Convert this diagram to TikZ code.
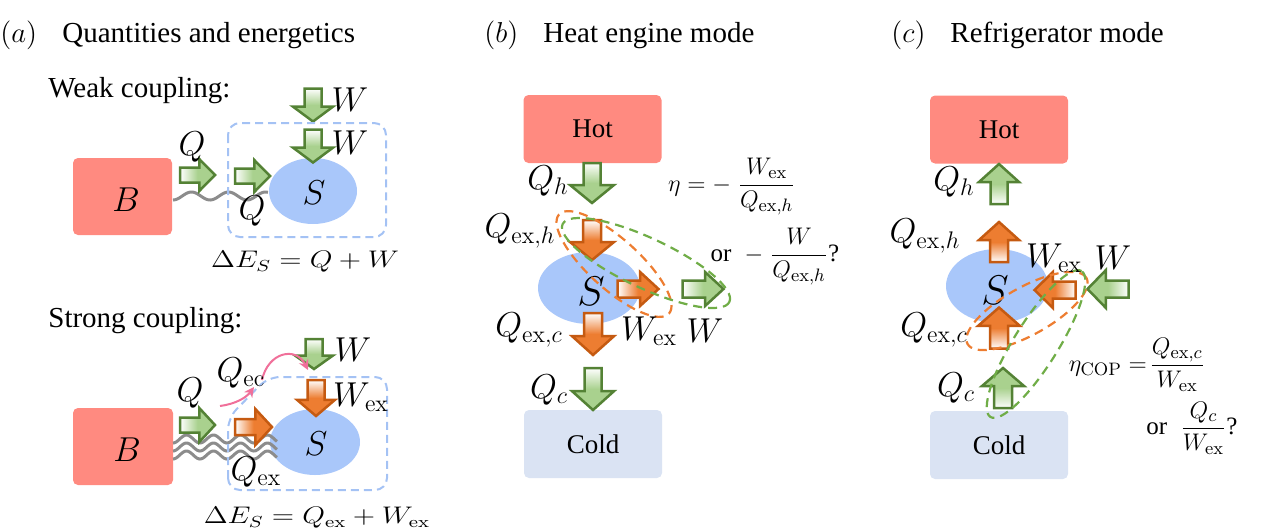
\documentclass[tikz,border=0pt]{standalone}
\usepackage[no-math]{fontspec}
\setmainfont{Liberation Serif}
\usepackage{amsmath}
\usepackage{graphicx}
\usetikzlibrary{arrows.meta,shapes.geometric}
\DeclareMathSizes{16}{16}{12.5}{10}

\definecolor{hotred}{HTML}{FF8A80}
\definecolor{sblue}{HTML}{A9C7FA}
\definecolor{coldblue}{HTML}{DAE3F3}
\definecolor{gdark}{HTML}{548235}
\definecolor{gfill}{HTML}{A9D18E}
\definecolor{odark}{HTML}{C55A11}
\definecolor{ofill}{HTML}{ED7D31}
\definecolor{dblue}{HTML}{A4C2F4}
\definecolor{dgreen}{HTML}{70AD47}
\definecolor{dorange}{HTML}{ED7D31}
\definecolor{pinkc}{HTML}{F0709A}
\definecolor{wavegrey}{HTML}{8C8C8C}

\newcommand{\fs}[1]{\fontsize{#1}{#1}\selectfont}
\newcommand{\hs}[2]{\scalebox{#1}[1]{#2}}
% #1 rotation, #2 x, #3 y (page px), #4 style, #5 length, #6 head width, #7 body width
\newcommand{\blockarrow}[7]{%
  \begin{scope}[shift={(#2,-#3)},rotate=#1]
    \path[#4] ({-#5/2},{-#7/2}) -- ({0.05*#5},{-#7/2}) -- ({0.05*#5},{-#6/2})
      -- ({#5/2},0) -- ({0.05*#5},{#6/2}) -- ({0.05*#5},{#7/2}) -- ({-#5/2},{#7/2}) -- cycle;
  \end{scope}}

\begin{document}
\begin{tikzpicture}[x=0.5pt,y=0.5pt,
  lab/.style={inner sep=0pt, font=\fs{16}},
  ttl/.style={inner sep=0pt, font=\fs{14.5}},
  box/.style={rounded corners=2.5pt, inner sep=0pt, font=\fs{13.5}},
  hotbox/.style={box, fill=hotred, minimum width=69pt, minimum height=34pt},
  coldbox/.style={box, fill=coldblue, minimum width=69pt, minimum height=34pt},
  sys/.style={ellipse, fill=sblue, inner sep=0pt},
  dashbox/.style={draw=dblue, line width=1pt, dash pattern=on 4pt off 2.5pt, rounded corners=6pt},
  dashO/.style={draw=dorange, line width=1.1pt, dash pattern=on 4.5pt off 3pt},
  dashG/.style={draw=dgreen, line width=1.1pt, dash pattern=on 4.5pt off 3pt},
  wave/.style={draw=wavegrey, line width=1.5pt},
  pinkarr/.style={draw=pinkc, line width=1pt, -{Stealth[length=5pt,width=5pt]}},
  ga/.style={draw=gdark, line width=1.25pt},
  oa/.style={draw=odark, line width=1.25pt},
  gR/.style={ga, left color=white, right color=gfill, middle color=gfill},
  gL/.style={ga, left color=gfill, right color=white, middle color=gfill},
  gD/.style={ga, top color=white, bottom color=gfill, middle color=gfill},
  gU/.style={ga, top color=gfill, bottom color=white, middle color=gfill},
  oR/.style={oa, left color=white, right color=ofill, middle color=ofill},
  oL/.style={oa, left color=ofill, right color=white, middle color=ofill},
  oD/.style={oa, top color=white, bottom color=ofill, middle color=ofill},
  oU/.style={oa, top color=ofill, bottom color=white, middle color=ofill}
]
\useasboundingbox (0,0) rectangle (1277,-531);

% ---------------- titles
\node[ttl, anchor=base west] (ta) at (0,-42) {$(a)$};
\node[ttl, anchor=base west] (tat) at (62,-42) {Quantities and energetics};
\node[ttl, anchor=base west] (tb) at (484,-42) {$(b)$};
\node[ttl, anchor=base west] (tbt) at (543,-42) {Heat engine mode};
\node[ttl, anchor=base west] (tc) at (891,-42) {$(c)$};
\node[ttl, anchor=base west] (tct) at (950,-42) {Refrigerator mode};

% ---------------- (a) weak coupling
\node[ttl, anchor=base west] (weak) at (48,-97) {Weak coupling:};
\node[box, fill=hotred, minimum width=49.5pt, minimum height=38.5pt] (Bw) at (122.5,-196.5) {};
\node[inner sep=0pt, font=\fs{17}] (Bwl) at (126,-200) {$B$};
\node[sys, minimum width=44pt, minimum height=33pt] (Sw) at (313,-191) {};
\node[inner sep=0pt, font=\fs{17.5}] (Swl) at (314,-193) {$S$};
\draw[wave] plot[domain=0:1, samples=80] ({173+95*\x}, {-(196+4*cos(924*\x))});
\blockarrow{0}{197.5}{175}{gR}{35}{32}{15}
\blockarrow{0}{252.5}{176}{gR}{35}{32}{15}
\blockarrow{-90}{313}{105}{gD}{33}{40}{17}
\blockarrow{-90}{313}{146}{gD}{33}{40}{17}
\draw[dashbox] (228,-123) rectangle (386,-237);
\node[lab] (qw1) at (192,-147) {$Q$};
\node[lab] (qw2) at (252,-211) {$Q$};
\node[lab] (ww1) at (350,-100) {$W$};
\node[lab] (ww2) at (350,-143) {$W$};
\node[inner sep=0pt, font=\fs{11.5}] (dEw) at (305,-262) {\hs{1.22}{$\Delta E_S = Q + W$}};

% ---------------- (a) strong coupling
\node[ttl, anchor=base west] (strong) at (48,-327) {Strong coupling:};
\node[box, fill=hotred, minimum width=50pt, minimum height=38.5pt] (Bs) at (123,-446.5) {};
\node[inner sep=0pt, font=\fs{17}] (Bsl) at (127,-450) {$B$};
\node[sys, minimum width=45pt, minimum height=33pt] (Ss) at (315,-442) {};
\node[inner sep=0pt, font=\fs{17.5}] (Ssl) at (316,-444) {$S$};
\foreach \yy in {439,447,455}
  \draw[wave] plot[domain=0:1, samples=90] ({173+104*\x}, {-(\yy+4*cos(1387*\x))});
\blockarrow{0}{197.5}{425}{gR}{35}{34}{15}
\blockarrow{0}{253.5}{427}{oR}{37}{36}{16}
\blockarrow{-90}{314}{354}{gD}{30}{38}{17}
\blockarrow{-90}{316}{398}{oD}{36}{38}{17}
\draw[dashbox] (228,-490) -- (228,-418) -- (268,-377) -- (387,-377) -- (387,-490) -- cycle;
\coordinate (p1) at (220,-406);
\coordinate (p2) at (254,-387);
\coordinate (p3) at (262,-380);
\coordinate (p4) at (308,-370);
\draw[pinkarr] (p1) .. controls (235,-404) and (246,-398) .. (p2);
\draw[pinkarr] (p3) .. controls (268,-352) and (296,-346) .. (p4);
\node[lab] (qs) at (190,-393) {$Q$};
\node[lab] (qec) at (241,-373) {$Q_{\mathrm{ec}}$};
\node[lab] (qex) at (256,-472) {$Q_{\mathrm{ex}}$};
\node[lab] (ws) at (353,-350) {$W$};
\node[lab] (wex) at (361,-397) {$W_{\mathrm{ex}}$};
\node[inner sep=0pt, font=\fs{11.5}] (dEs) at (317,-518) {\hs{1.22}{$\Delta E_S = Q_{\mathrm{ex}} + W_{\mathrm{ex}}$}};

% ---------------- (b) heat engine
\node[hotbox] (hotb) at (592.5,-129) {Hot};
\node[coldbox] (coldb) at (593,-444) {Cold};
\node[sys, minimum width=51pt, minimum height=36pt] (Sb) at (589,-288) {};
\node[inner sep=0pt, font=\fs{20}] (Sbl) at (591,-291) {$S$};
\blockarrow{-90}{592}{183}{gD}{40}{44}{17}
\blockarrow{-90}{592}{240}{oD}{40}{44}{18}
\blockarrow{0}{638}{289}{oR}{41}{34}{17}
\blockarrow{0}{703}{289}{gR}{41}{34}{17}
\blockarrow{-90}{593}{334}{oD}{42}{42}{18}
\blockarrow{-90}{593}{389}{gD}{42}{42}{17}
\begin{scope}[shift={(614,-264)},rotate=-42]
  \draw[dashO] (0,0) ellipse (37pt and 12.5pt);
\end{scope}
\begin{scope}[shift={(646,-263)},rotate=-25]
  \draw[dashG] (0,0) ellipse (46pt and 12.5pt);
\end{scope}
\node[lab] (qhb) at (548,-181) {$Q_h$};
\node[lab] (qexhb) at (520,-231) {$Q_{\mathrm{ex},h}$};
\node[lab] (qexcb) at (529,-330) {$Q_{\mathrm{ex},c}$};
\node[lab] (qcb) at (549,-390) {$Q_c$};
\node[lab] (wexb) at (649,-331) {$W_{\mathrm{ex}}$};
\node[lab] (wb) at (705,-331) {$W$};
\node[inner sep=0pt, font=\fs{12.5}] (etab) at (732,-187) {$\eta = -\;\dfrac{W_{\mathrm{ex}}}{Q_{\mathrm{ex},h}}$};
\node[inner sep=0pt, font=\fs{12.5}] (orb) at (775,-257) {or\; $-\;\dfrac{W}{Q_{\mathrm{ex},h}}$?};

% ---------------- (c) refrigerator
\node[hotbox] (hotc) at (999,-129.5) {Hot};
\node[coldbox] (coldc) at (999,-445) {Cold};
\node[sys, minimum width=51pt, minimum height=37pt] (Sc) at (997,-286) {};
\node[inner sep=0pt, font=\fs{20}] (Scl) at (995,-290) {$S$};
\blockarrow{90}{999}{184}{gU}{40}{40}{17}
\blockarrow{90}{999}{242}{oU}{40}{40}{18}
\blockarrow{180}{1055}{290}{oL}{41}{36}{17}
\blockarrow{180}{1108}{289}{gL}{41}{38}{17}
\blockarrow{90}{999}{328}{oU}{41}{42}{18}
\blockarrow{90}{1003}{388}{gU}{40}{42}{18}
\begin{scope}[shift={(1027,-311)},rotate=29]
  \draw[dashO] (0,0) ellipse (34pt and 12pt);
\end{scope}
\begin{scope}[shift={(1036,-344)},rotate=58]
  \draw[dashG] (0,0) ellipse (43pt and 11pt);
\end{scope}
\node[lab] (qhc) at (954,-182) {$Q_h$};
\node[lab] (qexhc) at (925,-236) {$Q_{\mathrm{ex},h}$};
\node[lab] (qexcc) at (934,-330) {$Q_{\mathrm{ex},c}$};
\node[lab] (qcc) at (956,-388) {$Q_c$};
\node[lab] (wexc) at (1054,-258) {$W_{\mathrm{ex}}$};
\node[lab] (wc) at (1113,-258) {$W$};
\node[inner sep=0pt, font=\fs{12.5}] (etac) at (1137,-365) {$\eta_{\mathrm{COP}} =\!\dfrac{Q_{\mathrm{ex},c}}{W_{\mathrm{ex}}}$};
\node[inner sep=0pt, font=\fs{12.5}] (orc) at (1192,-428) {or\; $\dfrac{Q_c}{W_{\mathrm{ex}}}$?};
\end{tikzpicture}
\end{document}
